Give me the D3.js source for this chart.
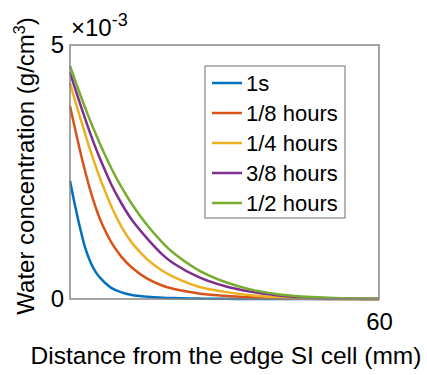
<html>
    <head>
        <title>Water concentration profiles</title>
        <style>
            body { margin: 0; background: #fff; }
            text { font-family: "Liberation Sans", Arial, sans-serif; }
        </style>
    </head>
    <body>
        <svg></svg>

        <script src="https://d3js.org/d3.v7.min.js"></script>
        <script>
            // distance from the edge SI cell (mm)
            const distance = [0, 1, 2, 3, 4, 5, 6, 8, 10, 12, 15, 18, 20, 25, 30, 35, 40, 45, 50, 55, 60];

            // water concentration, in units of 10^-3 g/cm^3
            const c1s = [2.33, 1.83, 1.38, 0.99, 0.72, 0.53, 0.40, 0.22, 0.13, 0.08, 0.045, 0.025, 0.018, 0.008, 0.003, 0, 0, 0, 0, 0, 0];
            const c18h = [3.80, 3.34, 2.90, 2.49, 2.12, 1.80, 1.53, 1.12, 0.83, 0.62, 0.40, 0.26, 0.20, 0.11, 0.065, 0.035, 0.015, 0.005, 0, 0, 0];
            const c14h = [4.25, 3.90, 3.56, 3.23, 2.91, 2.61, 2.33, 1.83, 1.42, 1.11, 0.78, 0.55, 0.44, 0.24, 0.14, 0.075, 0.035, 0.015, 0.005, 0, 0];
            const c38h = [4.46, 4.14, 3.83, 3.53, 3.24, 2.97, 2.72, 2.26, 1.88, 1.56, 1.19, 0.87, 0.71, 0.43, 0.255, 0.145, 0.075, 0.035, 0.012, 0.004, 0];
            const c12h = [4.59, 4.30, 4.02, 3.75, 3.49, 3.25, 3.01, 2.58, 2.20, 1.87, 1.45, 1.105, 0.915, 0.565, 0.34, 0.19, 0.10, 0.05, 0.025, 0.01, 0.005];

            const seriesNames = ["1s", "1/8 hours", "1/4 hours", "3/8 hours", "1/2 hours"];
            const seriesValues = [c1s, c18h, c14h, c38h, c12h];
            const colors = ["#0072BD", "#D95319", "#EDB120", "#7E2F8E", "#77AC30"];

            const xTicks = [60];
            const yTicks = [0, 5];

            window.onload = function() {
                let width = 427;
                let height = 375;

                const svg = d3.select("svg")
                    .attr("width", width)
                    .attr("height", height);

                const margin = {top: 45, right: 48, bottom: 76, left: 70};
                width = width - margin.left - margin.right;
                height = height - margin.top - margin.bottom;

                const plot = svg.append("g")
                    .attr("transform", "translate(" + margin.left + "," + margin.top + ")");

                const x = d3.scaleLinear().domain([0, 60]).range([0, width]);
                const y = d3.scaleLinear().domain([0, 5]).range([height, 0]);

                // curves, green drawn last so it sits on top
                const line = d3.line()
                    .x(function(d) { return x(d[0]); })
                    .y(function(d) { return y(d[1]); })
                    .curve(d3.curveCatmullRom.alpha(0.5));

                plot.selectAll("path.curve")
                    .data(seriesValues)
                    .join("path")
                    .attr("class", "curve")
                    .attr("fill", "none")
                    .attr("stroke", function(d, i) { return colors[i]; })
                    .attr("stroke-width", 2.5)
                    .attr("d", function(d) { return line(distance.map(function(v, j) { return [v, d[j]]; })); });

                // box round the axes
                plot.append("rect")
                    .attr("x", 0).attr("y", 0)
                    .attr("width", width).attr("height", height)
                    .attr("fill", "none")
                    .attr("stroke", "#858585")
                    .attr("stroke-width", 1.5);

                // x axis tick labels
                plot.append("g")
                    .attr("transform", "translate(0," + height + ")")
                    .call(d3.axisBottom(x).tickValues(xTicks).tickSize(0).tickPadding(14))
                    .call(function(g) { g.select(".domain").remove(); })
                    .selectAll("text")
                    .attr("font-size", 24)
                    .attr("font-family", "Liberation Sans, Arial, sans-serif")
                    .attr("fill", "#000");

                // y axis tick labels
                plot.append("g")
                    .call(d3.axisLeft(y).tickValues(yTicks).tickFormat(d3.format("d")).tickSize(0).tickPadding(6))
                    .call(function(g) { g.select(".domain").remove(); })
                    .selectAll("text")
                    .attr("font-size", 24)
                    .attr("font-family", "Liberation Sans, Arial, sans-serif")
                    .attr("fill", "#000");

                // exponent label
                const expo = plot.append("text")
                    .attr("x", 1)
                    .attr("y", -9)
                    .attr("font-size", 24)
                    .attr("fill", "#000");
                expo.append("tspan").text("\u00d710");
                expo.append("tspan").attr("dy", -10).attr("font-size", 18).text("-3");

                // axis titles
                svg.append("text")
                    .attr("x", 226)
                    .attr("y", 364)
                    .attr("text-anchor", "middle")
                    .attr("font-size", 24.5)
                    .attr("fill", "#000")
                    .text("Distance from the edge SI cell (mm)");

                const ylab = svg.append("text")
                    .attr("transform", "translate(34,166) rotate(-90)")
                    .attr("text-anchor", "middle")
                    .attr("font-size", 24)
                    .attr("fill", "#000");
                ylab.append("tspan").text("Water concentration (g/cm");
                ylab.append("tspan").attr("dy", -9).attr("font-size", 16).text("3");
                ylab.append("tspan").attr("dy", 9).text(")");

                // legend
                const legend = svg.append("g")
                    .attr("transform", "translate(205,66)");

                legend.append("rect")
                    .attr("width", 140)
                    .attr("height", 152)
                    .attr("fill", "#fff")
                    .attr("stroke", "#858585")
                    .attr("stroke-width", 1.2);

                const rows = legend.selectAll("g.row")
                    .data(seriesNames)
                    .join("g")
                    .attr("class", "row")
                    .attr("transform", function(d, i) { return "translate(0," + (17 + i * 30) + ")"; });

                rows.append("line")
                    .attr("x1", 7).attr("x2", 37)
                    .attr("stroke", function(d, i) { return colors[i]; })
                    .attr("stroke-width", 2.5);

                rows.append("text")
                    .attr("x", 41)
                    .attr("dy", "0.35em")
                    .attr("font-size", 22)
                    .attr("fill", "#000")
                    .text(function(d) { return d; });
            }
        </script>
    </body>
</html>
